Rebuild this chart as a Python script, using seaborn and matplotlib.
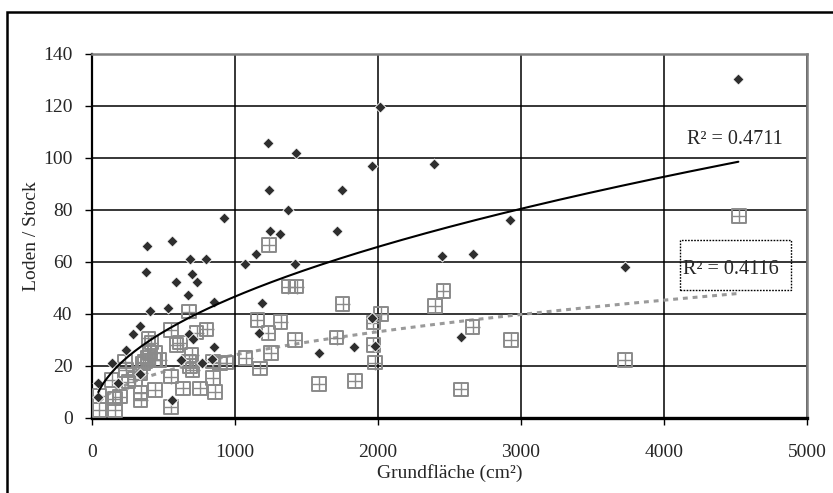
import numpy as np
import pandas as pd
import matplotlib
matplotlib.use("Agg")
import matplotlib.pyplot as plt
from matplotlib.patches import Rectangle
import seaborn as sns

# ---- data ----
loden_x = [44, 44, 138, 180, 240, 290, 337, 336, 387, 378, 403, 557, 533, 587, 682, 697,
           731, 672, 797, 850, 922, 675, 705, 850, 557, 623, 767, 837, 1073, 1145, 1191,
           1165, 1228, 1238, 1243, 1313, 1370, 1418, 1424, 2014, 1956, 2394, 1748, 1711,
           2923, 2450, 2662, 1584, 1832, 2578, 1956, 1979, 4520, 3725]
loden_y = [13.5, 8.2, 21.3, 13.6, 26.3, 32.4, 35.2, 17.0, 66.2, 56.0, 41.0, 68.0, 42.4,
           52.2, 61.0, 55.2, 52.4, 47.2, 61.0, 44.8, 76.8, 32.5, 30.3, 27.3, 6.8, 22.4,
           21.3, 22.6, 59.1, 63.0, 44.2, 32.6, 105.9, 87.7, 72.0, 70.8, 80.0, 59.3, 102.0,
           119.7, 96.9, 97.7, 87.7, 72.0, 76.2, 62.3, 63.1, 25.0, 27.2, 31.0, 38.3, 27.7,
           130.4, 58.0]

stock_x = [51, 51, 161, 161, 196, 137, 238, 254, 231, 300, 340, 340, 340, 394, 406, 371,
           441, 441, 441, 415, 392, 357, 473, 552, 552, 552, 592, 615, 638, 680, 680, 697,
           704, 685, 732, 802, 755, 848, 848, 860, 895, 937, 1075, 1156, 1175, 1233, 1252,
           1319, 1238, 1373, 1431, 1420, 1753, 2021, 1967, 1711, 1967, 1979, 1587, 1839,
           2399, 2457, 2662, 2580, 2930, 4524, 3729]
stock_y = [8.5, 3.0, 3.0, 7.5, 8.2, 14.6, 18.5, 14.0, 21.7, 15.0, 17.2, 7.0, 9.8, 30.6,
           25.0, 21.7, 25.0, 10.8, 22.3, 29.0, 23.0, 21.0, 22.3, 33.8, 15.9, 4.3, 28.0,
           29.0, 11.4, 40.9, 21.7, 24.2, 18.5, 20.0, 32.8, 34.1, 11.4, 21.7, 15.3, 10.1,
           21.0, 21.3, 23.0, 37.7, 19.1, 32.6, 24.9, 37.0, 66.5, 50.5, 50.5, 30.0, 43.8,
           40.0, 36.7, 30.9, 28.0, 21.3, 13.1, 14.2, 43.1, 48.8, 35.1, 11.0, 30.0, 77.7,
           22.3]

# power trendline coefficients y = a * x^b
loden_trend = [1.529, 0.495]
stock_trend = [1.085, 0.45]

r2_labels = ["R\u00b2 = 0.4711", "R\u00b2 = 0.4116"]
x_ticks = [0, 1000, 2000, 3000, 4000, 5000]
y_ticks = [0, 20, 40, 60, 80, 100, 120, 140]

# ---- style ----
sns.set_style("white")
plt.rcParams["font.family"] = ["Liberation Serif", "DejaVu Serif"]

W, H = 833, 493
fig = plt.figure(figsize=(W / 100, H / 100), dpi=100)
L, R, T, B = 92, 807, 54, 418
ax = fig.add_axes([L / W, 1 - B / H, (R - L) / W, (B - T) / H])

# outer chart border
fig.patches.append(Rectangle((7 / W, -0.05), 1.0, 1 - 12 / H + 0.05, transform=fig.transFigure,
                             fill=False, edgecolor="black", linewidth=1.8, zorder=0))

ax.set_xlim(0, 5000)
ax.set_ylim(0, 140)
ax.set_xticks(x_ticks)
ax.set_yticks(y_ticks)
ax.grid(True, color="black", linewidth=1.1)
ax.set_axisbelow(True)

for s in ["top", "right"]:
    ax.spines[s].set_color("#808080")
    ax.spines[s].set_linewidth(1.8)
ax.spines["left"].set_color("black")
ax.spines["left"].set_linewidth(1.6)
ax.spines["bottom"].set_color("black")
ax.spines["bottom"].set_linewidth(2.4)

ax.tick_params(axis="x", direction="out", length=5, width=1, color="black", pad=14, labelsize=14)
ax.tick_params(axis="y", direction="out", length=5, width=1, color="black", pad=9, labelsize=14)
ax.tick_params(axis="y", which="major", left=True)
ax.tick_params(axis="x", which="major", bottom=True)

# ---- series ----
df1 = pd.DataFrame({"x": loden_x, "y": loden_y})
df2 = pd.DataFrame({"x": stock_x, "y": stock_y})

gray = "#8a8a8a"

# trendlines
xx2 = np.linspace(min(stock_x), max(stock_x), 300)
ax.plot(xx2, stock_trend[0] * xx2 ** stock_trend[1], color="#9a9a9a", lw=2.2,
        ls=(0, (1.6, 1.6)), zorder=2.5)
xx1 = np.linspace(min(loden_x), max(loden_x), 300)
ax.plot(xx1, loden_trend[0] * xx1 ** loden_trend[1], color="black", lw=1.5, zorder=5)

sns.scatterplot(data=df2, x="x", y="y", ax=ax, marker="s", s=95, facecolor="none",
                edgecolor=gray, linewidth=1.4, zorder=3, legend=False)
sns.scatterplot(data=df2, x="x", y="y", ax=ax, marker="+", s=95, color=gray,
                linewidth=1.0, zorder=3, legend=False)
sns.scatterplot(data=df1, x="x", y="y", ax=ax, marker="D", s=32, color="#2e2e2e",
                edgecolor="white", linewidth=0.6, zorder=4, legend=False)

ax.text(4160, 107, r2_labels[0], fontsize=14.5, ha="left", va="center", zorder=6)
ax.text(4135, 57, r2_labels[1], fontsize=14.5, ha="left", va="center", zorder=6)
ax.add_patch(Rectangle((4112, 49.2), 776, 19.3, fill=False, edgecolor="black",
                       linestyle=(0, (1.2, 1.0)), linewidth=1.0, zorder=6))

ax.set_xlabel("Grundfläche (cm\u00b2)", fontsize=14, labelpad=2)
ax.set_ylabel("Loden / Stock", fontsize=14, labelpad=2)

fig.savefig("out.png", dpi=100)
